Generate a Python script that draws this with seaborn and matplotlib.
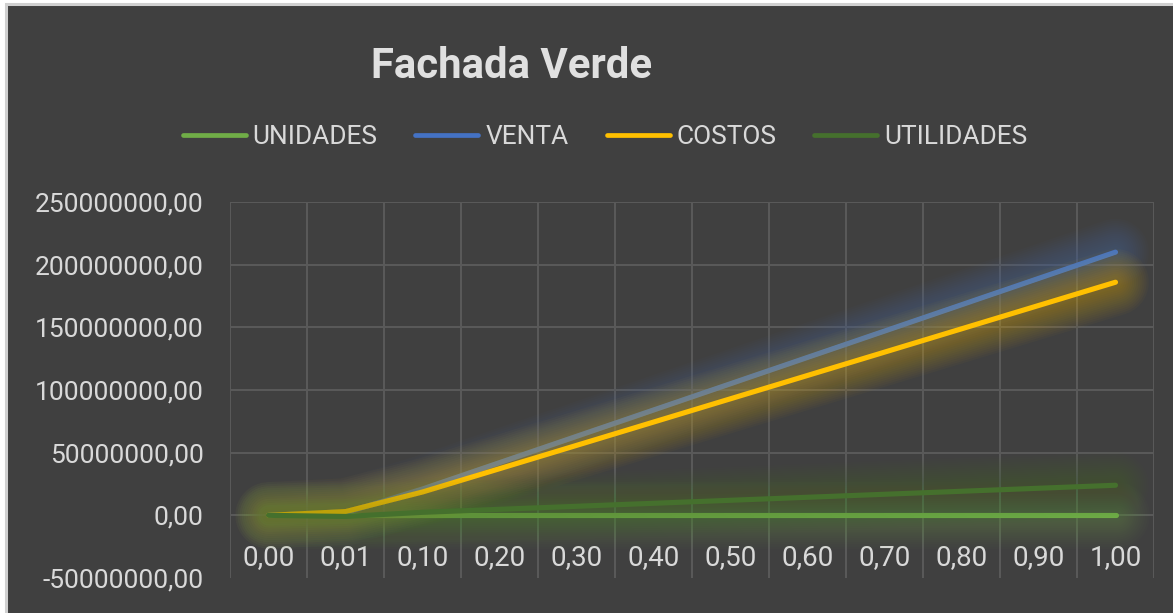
import matplotlib
matplotlib.use("Agg")
import numpy as np
import pandas as pd
import seaborn as sns
import matplotlib.pyplot as plt
from matplotlib import patheffects as pe
from matplotlib.patches import Rectangle
from matplotlib.lines import Line2D
from matplotlib.ticker import FixedLocator, FuncFormatter

# ---------------- data ----------------
categories = ["0,00", "0,01", "0,10", "0,20", "0,30", "0,40",
              "0,50", "0,60", "0,70", "0,80", "0,90", "1,00"]
unidades = [0, 3, 30, 60, 90, 120, 150, 180, 210, 240, 270, 300]
venta = [0, 2.1e6, 21.0e6, 42.0e6, 63.0e6, 84.0e6, 105.0e6, 126.0e6,
         147.0e6, 168.0e6, 189.0e6, 210.0e6]
costos = [0, 3.0e6, 18.6e6, 37.2e6, 55.8e6, 74.4e6, 93.0e6, 111.6e6,
          130.2e6, 148.8e6, 167.4e6, 186.0e6]
utilidades = [0, -0.9e6, 2.4e6, 4.8e6, 7.2e6, 9.6e6, 12.0e6, 14.4e6,
              16.8e6, 19.2e6, 21.6e6, 24.0e6]
y_ticks = [-50e6, 0, 50e6, 100e6, 150e6, 200e6, 250e6]
series_names = ["UNIDADES", "VENTA", "COSTOS", "UTILIDADES"]
title_text = "Fachada Verde"

# ---------------- style ----------------
BG = "#404040"
GRID = "#5a5a5a"
TXT = "#d9d9d9"
colors = {"UNIDADES": "#70AD47", "VENTA": "#4472C4",
          "COSTOS": "#FFC000", "UTILIDADES": "#45702D"}

sns.set_theme(style="dark")
plt.rcParams["font.family"] = ["Roboto", "DejaVu Sans"]

W, H = 1173, 613
fig = plt.figure(figsize=(W / 100, H / 100), dpi=100, facecolor="white")
fig.patches.append(Rectangle((5.5 / W, -0.1), 1.2, 1.1 - 4.5 / H,
                             transform=fig.transFigure, facecolor=BG,
                             edgecolor="#d0d0d0", linewidth=2.2, zorder=-5))

ax = fig.add_axes([230 / W, 1 - 578 / H, 924 / W, 376 / H])
ax.set_facecolor("none")
ax.set_zorder(2)

x = np.arange(len(categories))
df = pd.DataFrame({"x": x, "UNIDADES": unidades, "VENTA": venta,
                   "COSTOS": costos, "UTILIDADES": utilidades})


def glow(color):
    effects = []
    for w in range(48, 6, -3):
        effects.append(pe.Stroke(linewidth=w, foreground=color, alpha=0.028))
    effects.append(pe.Normal())
    return effects


for i, name in enumerate(series_names):
    sns.lineplot(data=df, x="x", y=name, ax=ax, color=colors[name],
                 linewidth=3.7, legend=False, estimator=None, sort=False,
                 solid_capstyle="round", zorder=3 + i,
                 path_effects=glow(colors[name]))

ax.set_xlim(-0.5, len(categories) - 0.5)
ax.set_ylim(-50e6, 250e6)
ax.set_xlabel("")
ax.set_ylabel("")

# ticks and grid
ax.xaxis.set_major_locator(FixedLocator(x))
ax.set_xticklabels(categories)
ax.yaxis.set_major_locator(FixedLocator(y_ticks))
ax.yaxis.set_major_formatter(FuncFormatter(lambda v, p: f"{v:.2f}".replace(".", ",")))

ax.grid(False)
for t in y_ticks:
    if t > y_ticks[0]:
        ax.axhline(t, color=GRID, lw=1.4, zorder=1)
for xv in np.arange(-0.5, len(categories), 1.0):
    ax.axvline(xv, color=GRID, lw=1.4, zorder=1)

for s in ax.spines.values():
    s.set_visible(False)
ax.spines["bottom"].set_position(("data", 0))

ax.tick_params(axis="x", which="both", length=0, pad=21, labelsize=20, labelcolor=TXT)
ax.tick_params(axis="y", which="both", length=0, pad=19, labelsize=19, labelcolor=TXT)

# title
fig.text(511.5 / W, 1 - 78 / H, title_text, ha="center", va="baseline",
         fontsize=30.2, fontweight="bold", color="#e0e0e0")

# legend
handles = [Line2D([0], [0], color=colors[n], lw=3.4, solid_capstyle="round")
           for n in series_names]
fig.legend(handles, series_names, loc="center", bbox_to_anchor=(605 / W, 0.776),
           ncol=4, frameon=False, fontsize=18.9, handlelength=2.4,
           handletextpad=0.26, columnspacing=1.45, labelcolor=TXT)

fig.savefig("out.png", dpi=100, facecolor=fig.get_facecolor())
